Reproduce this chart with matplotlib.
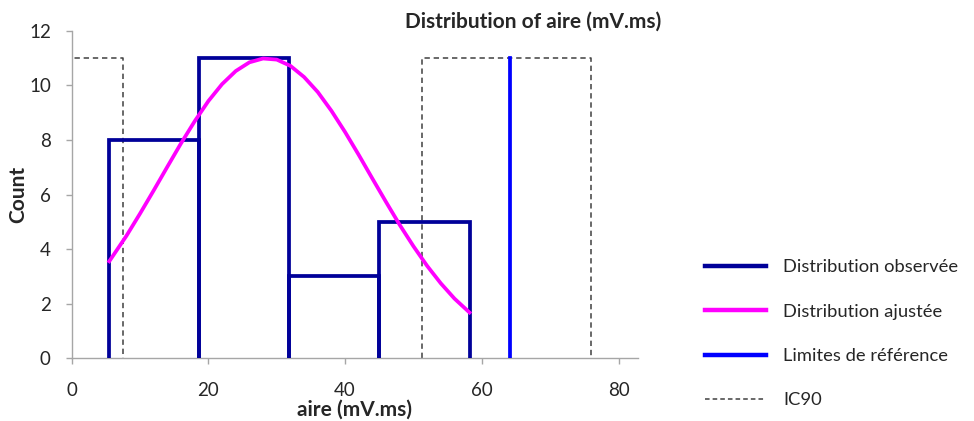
import matplotlib
matplotlib.use("Agg")
import matplotlib.pyplot as plt
from matplotlib.lines import Line2D

plt.rcParams['font.family'] = ['Lato', 'DejaVu Sans']

# Data
bin_edges = [5.5, 18.6, 31.8, 45.0, 58.2]
bin_counts = [8, 11, 3, 5]

fit_x = [5.5, 8, 10, 12, 14, 16, 18, 20, 22, 24, 26, 28, 30, 32, 34, 36, 38,
         40, 42, 44, 46, 48, 50, 52, 54, 56, 58.2]
fit_y = [3.55, 4.48, 5.30, 6.15, 7.02, 7.88, 8.69, 9.43, 10.05, 10.53, 10.85,
         10.99, 10.95, 10.72, 10.31, 9.76, 9.07, 8.29, 7.45, 6.58, 5.72, 4.88,
         4.10, 3.38, 2.74, 2.18, 1.67]

ref_limit_x = 64.1
ref_height = 11
ic90_left = [0.0, 7.45]
ic90_right = [51.2, 76.0]
ic90_height = 11

xticks = [0, 20, 40, 60, 80]
yticks = [0, 2, 4, 6, 8, 10, 12]

navy = '#000099'
magenta = '#FF00FF'
blue = '#0000FF'
dash_col = '#404040'
axis_col = '#A6A6A6'
text_col = '#262626'

fig = plt.figure(figsize=(9.74, 4.21), dpi=100)
ax = fig.add_axes([0.0736, 0.1496, 0.5811, 0.7768])

# IC90 dashed rectangles
for lo, hi in (ic90_left, ic90_right):
    ax.plot([lo, lo, hi, hi], [0, ic90_height, ic90_height, 0], color=dash_col,
            lw=1.1, ls=(0, (3.5, 2.5)), zorder=2)

# Observed distribution (open bins)
for i, c in enumerate(bin_counts):
    l, r = bin_edges[i], bin_edges[i + 1]
    ax.plot([l, l, r, r], [0, c, c, 0], color=navy, lw=2.7, zorder=3,
            solid_joinstyle='miter')

# Fitted distribution
ax.plot(fit_x, fit_y, color=magenta, lw=2.7, zorder=4)

# Reference limit
ax.plot([ref_limit_x, ref_limit_x], [0, ref_height], color=blue, lw=2.7, zorder=3)

ax.set_xlim(0, 82.8)
ax.set_ylim(0, 12)
ax.set_xticks(xticks)
ax.set_yticks(yticks)
for s in ('top', 'right'):
    ax.spines[s].set_visible(False)
for s in ('left', 'bottom'):
    ax.spines[s].set_color(axis_col)
    ax.spines[s].set_linewidth(1.0)
ax.tick_params(axis='both', colors=axis_col, length=4, width=1.0,
               labelcolor=text_col, labelsize=13.5)
ax.tick_params(axis='x', pad=13)
ax.tick_params(axis='y', pad=11)

ax.set_xlabel('aire (mV.ms)', fontsize=15, fontweight='bold', color=text_col)
ax.xaxis.set_label_coords(0.5, -0.159)
ax.xaxis.label.set_va('center')
ax.set_ylabel('Count', fontsize=15, fontweight='bold', color=text_col)
ax.yaxis.set_label_coords(-0.095, 0.5)
ax.yaxis.label.set_va('center')

fig.text(0.547, 0.948, 'Distribution of aire (mV.ms)', ha='center', va='center',
         fontsize=15, fontweight='bold', color=text_col)

handles = [
    Line2D([], [], color=navy, lw=3.2),
    Line2D([], [], color=magenta, lw=3.2),
    Line2D([], [], color=blue, lw=3.2),
    Line2D([], [], color=dash_col, lw=1.1, ls=(0, (3, 2))),
]
labels = ['Distribution observée', 'Distribution ajustée',
          'Limites de référence', 'IC90']
leg = fig.legend(handles, labels, loc='center left',
                 bbox_to_anchor=(0.7238, 0.207), frameon=False,
                 fontsize=13.2, handlelength=3.33, handletextpad=0.93,
                 labelspacing=1.55, borderaxespad=0, borderpad=0)
for t in leg.get_texts():
    t.set_color(text_col)

fig.savefig('out.png', dpi=100)
